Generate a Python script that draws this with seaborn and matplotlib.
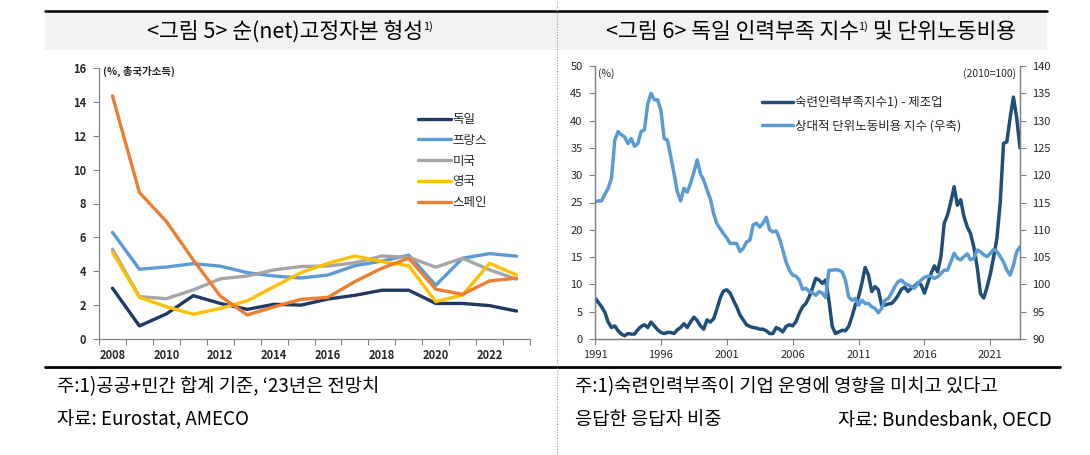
import numpy as np
import pandas as pd
import matplotlib
matplotlib.use("Agg")
import matplotlib.pyplot as plt
import seaborn as sns
from matplotlib.patches import Rectangle
from matplotlib.lines import Line2D

# ---------------- data: left chart (net fixed capital formation, % of GNI) -------------
years = list(range(2008, 2024))
countries = ["독일", "프랑스", "미국", "영국", "스페인"]
germany = [3.0, 0.77, 1.48, 2.56, 2.1, 1.75, 2.05, 2.0, 2.36, 2.58, 2.88, 2.88, 2.1, 2.1, 1.97, 1.65]
france = [6.3, 4.12, 4.25, 4.45, 4.3, 3.92, 3.72, 3.6, 3.78, 4.33, 4.6, 4.95, 3.17, 4.77, 5.04, 4.89]
usa = [5.3, 2.5, 2.38, 2.9, 3.55, 3.72, 4.08, 4.28, 4.31, 4.5, 4.9, 4.83, 4.24, 4.77, 4.08, 3.53]
uk = [5.12, 2.46, 1.91, 1.46, 1.81, 2.25, 3.09, 3.92, 4.47, 4.9, 4.57, 4.32, 2.21, 2.6, 4.47, 3.78]
spain = [14.35, 8.65, 6.94, 4.67, 2.54, 1.42, 1.9, 2.34, 2.46, 3.39, 4.18, 4.77, 2.94, 2.64, 3.43, 3.59]
left_colors = ["#1f3864", "#5b9bd5", "#a5a5a5", "#ffc000", "#ed7d31"]

# ---------------- data: right chart (quarterly, 1991Q1 - 2023Q2) ----------------------
start_quarter = "1991Q1"
shortage = [
    7.5, 6.7, 5.9, 4.9, 3.1, 2.1, 2.4, 1.5, 0.9, 0.6, 1.0, 0.9, 0.9, 1.7, 2.3, 2.6,
    2.1, 3.1, 2.4, 1.7, 1.2, 1.0, 1.2, 1.2, 1.0, 1.7, 2.1, 2.8, 2.1, 3.1, 4.0, 3.4,
    2.4, 1.8, 3.5, 3.1, 3.7, 5.5, 7.5, 8.8, 9.0, 8.4, 7.1, 5.9, 4.4, 3.5, 2.6, 2.3,
    2.1, 2.0, 1.8, 1.8, 1.5, 1.0, 1.0, 2.1, 1.8, 1.3, 2.3, 2.6, 2.4, 3.2, 4.7, 5.9,
    6.5, 7.7, 9.3, 11.1, 10.8, 10.2, 10.8, 7.1, 2.3, 1.0, 1.3, 1.6, 1.5, 2.3, 4.1, 6.2,
    7.7, 10.2, 13.1, 11.7, 8.7, 9.6, 9.0, 6.2, 6.2, 6.4, 6.5, 7.1, 8.0, 9.1, 9.5, 8.7,
    9.3, 9.7, 10.3, 9.9, 8.4, 10.2, 12.0, 13.4, 12.3, 15.1, 21.2, 22.7, 25.1, 27.9, 24.5, 25.5,
    22.4, 20.5, 19.3, 16.8, 13.2, 8.3, 7.5, 9.5, 11.9, 15.0, 18.5, 25.0, 35.8, 36.1, 40.5, 44.3,
    40.5, 35.0,
]
ulc = [
    115.1, 115.3, 115.3, 116.5, 117.6, 119.4, 126.4, 128.0, 127.4, 127.0, 125.8, 126.7,
    125.3, 125.8, 128.0, 128.3, 133.0, 135.0, 133.8, 133.8, 131.9, 126.7, 126.4, 123.4,
    120.3, 116.9, 115.3, 117.6, 116.9, 118.5, 120.5, 122.8, 120.3, 119.1, 117.3, 115.7,
    113.0, 111.1, 110.2, 109.3, 108.5, 107.5, 107.5, 107.5, 106.0, 106.6, 107.8, 108.1,
    110.9, 111.2, 110.5, 111.2, 112.3, 110.0, 109.6, 109.8, 108.4, 106.3, 104.1, 102.6,
    101.7, 101.5, 100.8, 99.1, 99.3, 98.7, 98.5, 98.0, 98.7, 98.4, 97.6, 102.6,
    102.6, 102.7, 102.6, 102.3, 100.8, 97.7, 97.1, 97.4, 96.2, 97.1, 96.5, 96.5,
    95.9, 95.6, 94.8, 95.6, 97.1, 97.4, 98.4, 99.6, 100.5, 100.8, 100.2, 99.9,
    99.6, 99.3, 100.2, 100.8, 101.3, 101.5, 101.5, 101.1, 101.4, 102.0, 102.6, 102.6,
    104.1, 105.7, 104.8, 104.5, 105.1, 105.6, 104.5, 104.8, 106.3, 106.0, 105.4, 105.1,
    105.7, 106.4, 106.0, 105.1, 104.1, 102.6, 101.7, 103.5, 106.0, 106.9,
]
right_labels = ["숙련인력부족지수1) - 제조업", "상대적 단위노동비용 지수 (우축)"]
right_colors = ["#1f4e79", "#5b9bd5"]
right_xticks = [1991, 1996, 2001, 2006, 2011, 2016, 2021]

# ---------------- style ----------------
sns.set_theme(style="white")
plt.rcParams["font.family"] = ["Noto Sans CJK KR", "DejaVu Sans"]
plt.rcParams["axes.unicode_minus"] = False

W, H = 1090, 455
fig = plt.figure(figsize=(W / 100, H / 100), dpi=100)


def fx(px):
    return px / W


def fy(py):
    return 1 - py / H


spine_col = "#808080"
txt_col = "#262626"

# ---------------- decorations ----------------
fig.patches.append(Rectangle((fx(45), fy(50)), fx(1047) - fx(45), fy(12) - fy(50),
                             transform=fig.transFigure, facecolor="#f2f2f2", edgecolor="none", zorder=0))
fig.lines.append(Line2D([fx(45), fx(1047)], [fy(11), fy(11)], transform=fig.transFigure,
                        color="black", lw=1.8))
fig.lines.append(Line2D([fx(45), fx(1060)], [fy(367), fy(367)], transform=fig.transFigure,
                        color="black", lw=2.0))
fig.lines.append(Line2D([fx(557), fx(557)], [0, 1], transform=fig.transFigure,
                        color="#9a9a9a", lw=0.8, ls=(0, (1, 1.5))))

renderer = fig.canvas.get_renderer()


def rich_text(pieces, x_px, y_px, ha="center"):
    """pieces: list of (text, fontsize, raise_px)."""
    objs = []
    for t, fs, rise in pieces:
        o = fig.text(0, 0, t, fontsize=fs, color="black", va="baseline", ha="left")
        objs.append((o, rise))
    widths = [o.get_window_extent(renderer).width for o, _ in objs]
    total = sum(widths)
    x0 = x_px - total / 2 if ha == "center" else (x_px - total if ha == "right" else x_px)
    cur = x0
    for (o, rise), w in zip(objs, widths):
        o.set_position((fx(cur), fy(y_px - rise)))
        cur += w


rich_text([("<그림 5> 순(net)고정자본 형성", 15.5, 0), ("1)", 8, 8)], 290, 38)
rich_text([("<그림 6> 독일 인력부족 지수", 15.5, 0), ("1)", 8, 8), (" 및 단위노동비용", 15.5, 0)], 811, 38)

fn = 13.5
fig.text(fx(57), fy(392), "주:1)공공+민간 합계 기준, ‘23년은 전망치", fontsize=fn, va="baseline", color="black")
fig.text(fx(57), fy(425), "자료: Eurostat, AMECO", fontsize=fn, va="baseline", color="black")
fig.text(fx(575), fy(392), "주:1)숙련인력부족이 기업 운영에 영향을 미치고 있다고", fontsize=fn, va="baseline", color="black")
fig.text(fx(575), fy(425), "응답한 응답자 비중", fontsize=fn, va="baseline", color="black")
fig.text(fx(1052), fy(425), "자료: Bundesbank, OECD", fontsize=fn, va="baseline", ha="right", color="black")

# ---------------- left chart ----------------
ax1 = fig.add_axes([fx(99), fy(339), fx(530) - fx(99), fy(68) - fy(339)])
df_left = pd.DataFrame({
    "연도": years * len(countries),
    "국가": [c for c in countries for _ in years],
    "값": germany + france + usa + uk + spain,
})
sns.lineplot(data=df_left, x="연도", y="값", hue="국가", hue_order=countries,
             palette=dict(zip(countries, left_colors)), linewidth=2.4, ax=ax1)
ax1.set_xlim(2007.5, 2023.5)
ax1.set_ylim(0, 16)
ax1.set_xticks(years[::2])
ax1.set_xticks(np.arange(2007.5, 2024, 1), minor=True)
ax1.set_yticks(range(0, 17, 2))
ax1.tick_params(axis="x", which="major", bottom=True, length=0, pad=7, labelsize=8, labelcolor=txt_col)
ax1.tick_params(axis="x", which="minor", bottom=True, length=4, width=0.8, color=spine_col, direction="out")
ax1.tick_params(axis="y", left=True, length=4, width=0.8, color=spine_col, direction="out", pad=5,
                labelsize=8, labelcolor=txt_col)
for lbl in ax1.get_xticklabels() + ax1.get_yticklabels():
    lbl.set_fontweight("bold")
ax1.set_xlabel("")
ax1.set_ylabel("")
ax1.grid(False)
sns.despine(ax=ax1)
for s in ("left", "bottom"):
    ax1.spines[s].set_color(spine_col)
    ax1.spines[s].set_linewidth(0.9)
h, l = ax1.get_legend_handles_labels()
ax1.legend(h, l, loc="upper left", bbox_to_anchor=(fx(418), fy(113)), bbox_transform=fig.transFigure,
           frameon=False, fontsize=9, handlelength=2.6, handletextpad=0.15, labelspacing=0.62,
           borderpad=0, borderaxespad=0, labelcolor=txt_col)
fig.text(fx(103), fy(75), "(%, 총국가소득)", fontsize=7.5, fontweight="bold", color=txt_col, va="baseline")

# ---------------- right chart ----------------
periods = pd.period_range(start_quarter, periods=len(shortage), freq="Q")
xq = periods.year + (periods.quarter - 1) / 4.0
df_right = pd.DataFrame({"t": xq, "shortage": shortage, "ulc": ulc})

ax2 = fig.add_axes([fx(595), fy(339), fx(1020) - fx(595), fy(66) - fy(339)])
ax2r = ax2.twinx()
sns.lineplot(data=df_right, x="t", y="shortage", color=right_colors[0], linewidth=2.5, ax=ax2,
             label=right_labels[0], legend=False)
sns.lineplot(data=df_right, x="t", y="ulc", color=right_colors[1], linewidth=2.5, ax=ax2r,
             label=right_labels[1], legend=False)
ax2.set_xlim(xq.min(), xq.max())
ax2.set_ylim(0, 50)
ax2r.set_ylim(90, 140)
ax2.set_xticks(right_xticks)
ax2.set_yticks(range(0, 51, 5))
ax2r.set_yticks(range(90, 141, 5))
ax2.tick_params(axis="x", bottom=True, length=4, width=0.8, color=spine_col, direction="out", pad=4,
                labelsize=8, labelcolor=txt_col)
ax2.tick_params(axis="y", left=True, length=4, width=0.8, color=spine_col, direction="out", pad=5,
                labelsize=8, labelcolor=txt_col)
ax2r.tick_params(axis="y", right=True, length=4, width=0.8, color=spine_col, direction="out", pad=5,
                 labelsize=8, labelcolor=txt_col)
for a in (ax2, ax2r):
    a.set_xlabel("")
    a.set_ylabel("")
    a.grid(False)
    a.spines["top"].set_visible(False)
    for s in ("left", "bottom", "right"):
        a.spines[s].set_color(spine_col)
        a.spines[s].set_linewidth(0.9)
handles = [ax2.get_lines()[0], ax2r.get_lines()[0]]
ax2r.legend(handles, right_labels, loc="upper left", bbox_to_anchor=(fx(762), fy(96)),
            bbox_transform=fig.transFigure, frameon=False, fontsize=9, handlelength=2.5,
            handletextpad=0.15, labelspacing=0.85, borderpad=0, borderaxespad=0, labelcolor=txt_col)
fig.text(fx(598), fy(77), "(%)", fontsize=7.5, color=txt_col, va="baseline")
fig.text(fx(1016), fy(77), "(2010=100)", fontsize=7.5, color=txt_col, va="baseline", ha="right")

fig.savefig("out.png", dpi=100)
